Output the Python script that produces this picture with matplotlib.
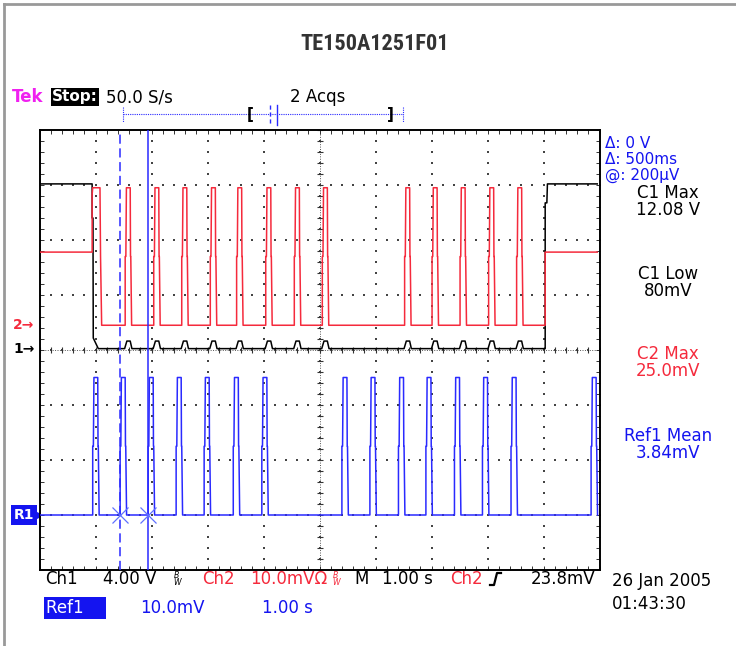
import numpy as np
import matplotlib
matplotlib.use("Agg")
import matplotlib.pyplot as plt

# scope settings
title = 'TE150A1251F01'
ch1_scale = 4.0      # V/div
ch2_scale = 10.0     # mV/div
ref1_scale = 10.0    # mV/div
ch1_pos = 0.0        # div
ch2_pos = 0.45
ref1_pos = -3.0

# Ch1 (V): supply line, high / low with small bumps at the Ch2 pulses
ch1_high = 12.08
ch1_low = 0.1
ch1_bump = 0.65
ch1_fall = 0.94
ch1_rise = 9.03

# Ch2 (mV)
ch2_idle = 13.3
ch2_top = 25.0
ch2_pulses = [1.53, 2.04, 2.54, 3.05, 3.52, 4.04, 4.55, 5.05,
              6.52, 7.01, 7.51, 8.02, 8.52]

# Ref1 (mV)
ref1_top = 25.0
ref1_pulses = [0.95, 1.44, 1.94, 2.44, 2.94, 3.46, 3.97,
               5.40, 5.90, 6.41, 6.90, 7.41, 7.91, 8.42, 9.85]

cursors = [1.44, 1.94]

RED = '#f52a3c'
BLUE = '#2a2aff'
TBLUE = '#1414f0'


def pulse(t0, top):
    xs = [t0, t0, t0 + 0.012, t0 + 0.022, t0 + 0.09, t0 + 0.095, t0 + 0.1, t0 + 0.115]
    ys = [0, top / 2, top / 2, top, top, top / 2, top / 2, 0]
    return xs, ys


# build Ch2 trace
c2x = [0.0, ch1_fall, ch1_fall, ch1_fall + 0.01, 1.08, 1.09, 1.11]
c2y = [ch2_idle, ch2_idle, ch2_top * 0.95, ch2_top, ch2_top, ch2_top / 2, 0]
for t in ch2_pulses:
    px, py = pulse(t, ch2_top)
    c2x += px
    c2y += py
c2x += [ch1_rise, ch1_rise, 9.96]
c2y += [0, ch2_idle, ch2_idle]

# build Ch1 trace
c1x = [0.0, ch1_fall, ch1_fall, ch1_fall + 0.015, ch1_fall + 0.02, 1.05]
c1y = [ch1_high, ch1_high, 9.6, 9.6, 0.87, ch1_low]
for t in ch2_pulses:
    c1x += [t - 0.01, t + 0.03, t + 0.09, t + 0.12]
    c1y += [ch1_low, ch1_bump, ch1_bump, ch1_low]
c1x += [ch1_rise, ch1_rise, ch1_rise + 0.03, ch1_rise + 0.04, 9.96]
c1y += [ch1_low, 10.7, 10.7, ch1_high, ch1_high]

# build Ref1 trace
r1x = [0.0]
r1y = [0.0]
for t in ref1_pulses:
    px, py = pulse(t, ref1_top)
    r1x += px
    r1y += py

fig = plt.figure(figsize=(7.36, 6.46), dpi=100)
W, H = 736, 646

# overlay in pixel coords for readouts
ov = fig.add_axes([0, 0, 1, 1])
ov.set_xlim(0, W)
ov.set_ylim(H, 0)
ov.axis('off')

ax = fig.add_axes([39.5 / W, 76 / H, 560 / W, 440 / H])
ax.set_zorder(2)
ax.set_xlim(0, 10)
ax.set_ylim(-4, 4)
for s in ax.spines.values():
    s.set_linewidth(1.4)
ax.set_xticks(np.arange(0, 10.01, 0.2))
ax.set_yticks(np.arange(-4, 4.01, 0.2))
ax.tick_params(direction='in', length=3, width=0.7, top=True, right=True,
               labelbottom=False, labelleft=False, color='#333')

# graticule dots
gx, gy = [], []
for xv in range(1, 10):
    for yv in np.arange(-4, 4.01, 0.2):
        gx.append(xv); gy.append(yv)
for yv in range(-3, 4):
    for xv in np.arange(0, 10.01, 0.2):
        gx.append(xv); gy.append(yv)
ax.scatter(gx, gy, s=1.6, marker='s', color='#444', linewidths=0, zorder=1)
# centre cross
ax.plot([5, 5], [-4, 4], color='#555', lw=0.7, ls=(0, (1, 1.5)), zorder=1)
ax.plot([0, 10], [0, 0], color='#555', lw=0.7, ls=(0, (1, 1.5)), zorder=1)
tk = np.arange(-4, 4.01, 0.2)
ax.plot([5] * len(tk), tk, ls='none', marker='_', ms=5, mew=0.8, color='#333', zorder=1)
tk = np.arange(0, 10.01, 0.2)
ax.plot(tk, [0] * len(tk), ls='none', marker='|', ms=5, mew=0.8, color='#333', zorder=1)

# traces
ax.plot(c1x, np.array(c1y) / ch1_scale + ch1_pos, color='black', lw=1.1, zorder=3)
ax.plot(c2x, np.array(c2y) / ch2_scale + ch2_pos, color=RED, lw=1.1, zorder=4)
ax.plot(r1x, np.array(r1y) / ref1_scale + ref1_pos, color=BLUE, lw=1.1, zorder=4)

# cursors
ax.axvline(cursors[0], color=BLUE, lw=1.1, ls=(0, (6, 3)), zorder=5)
ax.axvline(cursors[1], color=BLUE, lw=1.1, zorder=5)
ax.plot(cursors, [ref1_pos] * 2, ls='none', marker='x', ms=12, mew=0.9, color='#6070ff', zorder=6)

# outer frame
ov.plot([4, 4], [4, H], color='#999', lw=2)
ov.plot([4, W], [4, 4], color='#999', lw=2)

ov.text(375, 44, title, ha='center', va='center', fontsize=16, weight='bold',
        color='#333', fontstretch='condensed',
        family=['Roboto Condensed', 'DejaVu Sans Condensed', 'Liberation Sans Narrow',
                'Roboto', 'DejaVu Sans'])

fs = 12
ov.text(12, 97, 'Tek', color='#f020f0', fontsize=fs, weight='bold', va='center')
ov.text(52, 97, 'Stop:', color='white', fontsize=fs - 1, weight='bold', va='center',
        bbox=dict(boxstyle='square,pad=0.08', fc='black', ec='none'))
ov.text(106, 97, '50.0 S/s', color='black', fontsize=fs, va='center')
ov.text(290, 97, '2 Acqs', color='black', fontsize=fs, va='center')

# record indicator
ov.plot([123, 403], [114, 114], color=BLUE, lw=0.8, ls=(0, (1, 1)))
ov.plot([123, 123], [107, 122], color=BLUE, lw=0.8, ls=(0, (1, 1)))
ov.plot([403, 403], [107, 122], color=BLUE, lw=0.8, ls=(0, (1, 1)))
ov.text(250, 114, '[', ha='center', va='center', fontsize=11, weight='bold')
ov.text(390, 114, ']', ha='center', va='center', fontsize=11, weight='bold')
ov.plot([270, 270], [105, 125], color=BLUE, lw=1, ls=(0, (3, 2)))
ov.plot([277, 277], [105, 125], color=BLUE, lw=1)

# right readouts
ov.text(605, 143, 'Δ: 0 V', color=TBLUE, fontsize=11, va='center')
ov.text(605, 159, 'Δ: 500ms', color=TBLUE, fontsize=11, va='center')
ov.text(605, 175, '@: 200µV', color=TBLUE, fontsize=11, va='center')
for y, s, c in [(193, 'C1 Max', 'black'), (210, '12.08 V', 'black'),
                (274, 'C1 Low', 'black'), (291, '80mV', 'black'),
                (354, 'C2 Max', RED), (371, '25.0mV', RED),
                (436, 'Ref1 Mean', TBLUE), (453, '3.84mV', TBLUE)]:
    ov.text(668, y, s, color=c, fontsize=fs, ha='center', va='center')

# left ground markers
ov.text(13, 325, '2→', color=RED, fontsize=10, va='center', weight='bold')
ov.text(13, 349, '1→', color='black', fontsize=10, va='center', weight='bold')
ov.text(14, 515, 'R1', color='white', fontsize=10, va='center', weight='bold',
        bbox=dict(boxstyle='square,pad=0.2', fc=TBLUE, ec='none'))
ov.plot([36], [515], marker='>', ms=8, color=TBLUE)
# trigger level marker
ov.plot([592], [195], marker='<', ms=8, color=RED)
ov.plot([592, 599], [195, 195], color=RED, lw=1.5)

# bottom readouts
yb = 579
ov.text(45, yb, 'Ch1', fontsize=fs, va='center')
ov.text(103, yb, '4.00 V', fontsize=fs, va='center')
ov.text(173, yb, r'$^{B}_{W}$', fontsize=8, va='center')
ov.text(202, yb, 'Ch2', fontsize=fs, va='center', color=RED)
ov.text(250, yb, '10.0mVΩ', fontsize=fs, va='center', color=RED)
ov.text(332, yb, r'$^{B}_{W}$', fontsize=8, va='center', color=RED)
ov.text(354, yb, 'M', fontsize=fs, va='center')
ov.text(382, yb, '1.00 s', fontsize=fs, va='center')
ov.text(450, yb, 'Ch2', fontsize=fs, va='center', color=RED)
ov.plot([490, 494, 497, 501], [585, 585, 573, 573], color='black', lw=1.6)
ov.text(531, yb, '23.8mV', fontsize=fs, va='center')
ov.text(612, 581, '26 Jan 2005', fontsize=fs, va='center')
ov.text(612, 604, '01:43:30', fontsize=fs, va='center')

ov.text(46, 608, 'Ref1    ', color='white', fontsize=fs, va='center',
        bbox=dict(boxstyle='square,pad=0.1', fc=TBLUE, ec='none'))
ov.text(140, 608, '10.0mV', color=TBLUE, fontsize=fs, va='center')
ov.text(262, 608, '1.00 s', color=TBLUE, fontsize=fs, va='center')

fig.savefig('out.png', dpi=100)
